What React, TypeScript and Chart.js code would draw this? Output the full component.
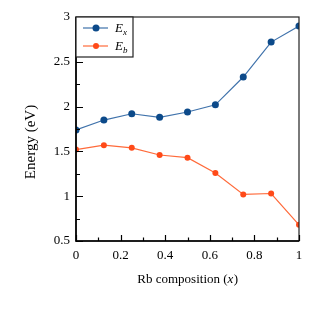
import React, { useEffect, useRef } from "react";
import { Chart, registerables } from "chart.js";

Chart.register(...registerables);

const composition = [0, 0.125, 0.25, 0.375, 0.5, 0.625, 0.75, 0.875, 1];
const exValues = [1.74, 1.85, 1.92, 1.88, 1.94, 2.02, 2.33, 2.72, 2.9];
const ebValues = [1.52, 1.57, 1.54, 1.46, 1.43, 1.26, 1.02, 1.03, 0.68];
const xMajorTicks = [0, 0.2, 0.4, 0.6, 0.8, 1];
const xMinorTicks = [0.1, 0.3, 0.5, 0.7, 0.9];
const yMajorTicks = [0.5, 1, 1.5, 2, 2.5, 3];
const yMinorTicks = [0.75, 1.25, 1.75, 2.25, 2.75];
const seriesNames = ["x", "b"];

const BLUE_LINE = "#3f72ab";
const BLUE_PT = "#0c4a8a";
const ORANGE_LINE = "#ff6a3a";
const ORANGE_PT = "#ff4a18";
const SERIF = "'Liberation Serif', 'DejaVu Serif', serif";

const decorPlugin = {
  id: "decor",
  afterDraw(chart: any) {
    const { ctx, chartArea } = chart;
    const { left, right, top, bottom } = chartArea;
    const xs = chart.scales.x;
    const ys = chart.scales.y;
    ctx.save();
    // frame
    ctx.strokeStyle = "#222";
    ctx.lineWidth = 1.2;
    ctx.strokeRect(left, top, right - left, bottom - top);
    ctx.strokeStyle = "#000";
    ctx.lineWidth = 1.6;
    ctx.beginPath();
    ctx.moveTo(left, top);
    ctx.lineTo(left, bottom);
    ctx.lineTo(right, bottom);
    ctx.stroke();
    // ticks inward
    ctx.lineWidth = 1.2;
    ctx.beginPath();
    xMajorTicks.forEach((v) => {
      const p = Math.round(xs.getPixelForValue(v)) + 0.5;
      ctx.moveTo(p, bottom);
      ctx.lineTo(p, bottom - 6);
    });
    xMinorTicks.forEach((v) => {
      const p = Math.round(xs.getPixelForValue(v)) + 0.5;
      ctx.moveTo(p, bottom);
      ctx.lineTo(p, bottom - 3.5);
    });
    yMajorTicks.forEach((v) => {
      const p = Math.round(ys.getPixelForValue(v)) + 0.5;
      ctx.moveTo(left, p);
      ctx.lineTo(left + 7, p);
    });
    yMinorTicks.forEach((v) => {
      const p = Math.round(ys.getPixelForValue(v)) + 0.5;
      ctx.moveTo(left, p);
      ctx.lineTo(left + 4, p);
    });
    ctx.stroke();

    // legend
    const lx = left;
    const ly = top;
    const lw = 57;
    const lh = 40;
    ctx.fillStyle = "#fff";
    ctx.fillRect(lx, ly, lw, lh);
    ctx.strokeStyle = "#222";
    ctx.lineWidth = 1.2;
    ctx.strokeRect(lx, ly, lw, lh);
    const entries = [
      { line: BLUE_LINE, pt: BLUE_PT, r: 3.5, sub: seriesNames[0] },
      { line: ORANGE_LINE, pt: ORANGE_PT, r: 3, sub: seriesNames[1] },
    ];
    entries.forEach((e, i) => {
      const cy = ly + 11 + i * 18;
      ctx.strokeStyle = e.line;
      ctx.lineWidth = 1.2;
      ctx.beginPath();
      ctx.moveTo(lx + 7, cy);
      ctx.lineTo(lx + 32, cy);
      ctx.stroke();
      ctx.fillStyle = e.pt;
      ctx.beginPath();
      ctx.arc(lx + 20, cy, e.r, 0, Math.PI * 2);
      ctx.fill();
      ctx.fillStyle = "#000";
      ctx.textBaseline = "alphabetic";
      ctx.textAlign = "left";
      ctx.font = `italic 13px ${SERIF}`;
      ctx.fillText("E", lx + 39, cy + 4);
      const ew = ctx.measureText("E").width;
      ctx.font = `italic 9px ${SERIF}`;
      ctx.fillText(e.sub, lx + 39 + ew, cy + 7);
    });

    // axis titles
    ctx.fillStyle = "#000";
    ctx.textBaseline = "middle";
    const t1 = "Rb composition (";
    const t2 = "x";
    const t3 = ")";
    ctx.font = `13px ${SERIF}`;
    const w1 = ctx.measureText(t1).width;
    const w3 = ctx.measureText(t3).width;
    ctx.font = `italic 13px ${SERIF}`;
    const w2 = ctx.measureText(t2).width;
    const total = w1 + w2 + w3;
    const sx = (left + right) / 2 - total / 2;
    const ty = 280;
    ctx.textAlign = "left";
    ctx.font = `13px ${SERIF}`;
    ctx.fillText(t1, sx, ty);
    ctx.font = `italic 13px ${SERIF}`;
    ctx.fillText(t2, sx + w1, ty);
    ctx.font = `13px ${SERIF}`;
    ctx.fillText(t3, sx + w1 + w2 + 0.5, ty);

    ctx.translate(31, 142);
    ctx.rotate(-Math.PI / 2);
    ctx.textAlign = "center";
    ctx.font = `15px ${SERIF}`;
    ctx.fillText("Energy (eV)", 0, 0);
    ctx.restore();
  },
};

export default function App() {
  const ref = useRef<HTMLCanvasElement>(null);
  useEffect(() => {
    if (!ref.current) return;
    const chart = new Chart(ref.current, {
      type: "line",
      data: {
        datasets: [
          {
            label: "Ex",
            data: composition.map((x, i) => ({ x, y: exValues[i] })),
            borderColor: BLUE_LINE,
            backgroundColor: BLUE_PT,
            pointBackgroundColor: BLUE_PT,
            pointBorderColor: BLUE_PT,
            pointRadius: 3.5,
            pointBorderWidth: 0,
            borderWidth: 1.2,
            clip: 0,
          },
          {
            label: "Eb",
            data: composition.map((x, i) => ({ x, y: ebValues[i] })),
            borderColor: ORANGE_LINE,
            backgroundColor: ORANGE_PT,
            pointBackgroundColor: ORANGE_PT,
            pointBorderColor: ORANGE_PT,
            pointRadius: 3,
            pointBorderWidth: 0,
            borderWidth: 1.2,
            clip: 0,
          },
        ],
      },
      options: {
        animation: false,
        responsive: false,
        events: [],
        layout: { padding: { left: 0, right: 16, top: 17, bottom: 0 } },
        plugins: { legend: { display: false }, tooltip: { enabled: false } },
        scales: {
          x: {
            type: "linear",
            min: 0,
            max: 1,
            grid: { display: false, drawTicks: false },
            border: { display: false },
            afterFit: (s: any) => {
              s.height = 74;
            },
            afterBuildTicks: (s: any) => {
              s.ticks = xMajorTicks.map((v) => ({ value: v }));
            },
            ticks: {
              padding: 7,
              color: "#000",
              font: { family: SERIF, size: 13 },
              maxRotation: 0,
              autoSkip: false,
              callback: (v: any) => String(v),
            },
          },
          y: {
            type: "linear",
            min: 0.5,
            max: 3,
            grid: { display: false, drawTicks: false },
            border: { display: false },
            afterFit: (s: any) => {
              s.width = 76;
            },
            afterBuildTicks: (s: any) => {
              s.ticks = yMajorTicks.map((v) => ({ value: v }));
            },
            ticks: {
              padding: 6,
              color: "#000",
              font: { family: SERIF, size: 13 },
              autoSkip: false,
              callback: (v: any) => String(v),
            },
          },
        },
      },
      plugins: [decorPlugin],
    });
    return () => chart.destroy();
  }, []);
  return (
    <div style={{ position: "fixed", left: 0, top: 0, width: 315, height: 315, background: "#fff" }}>
      <canvas ref={ref} width={315} height={315} style={{ width: 315, height: 315 }} />
    </div>
  );
}
